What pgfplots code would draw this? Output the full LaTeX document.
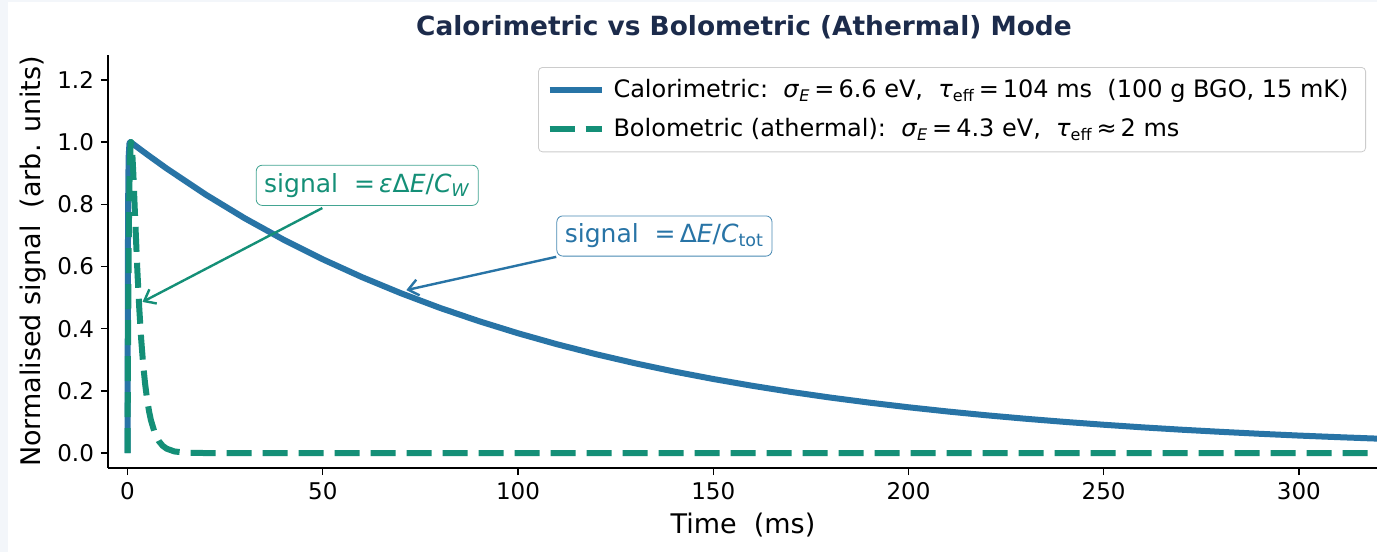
\documentclass[border=0pt]{standalone}
\usepackage{fontspec}
\setmainfont{DejaVu Sans}
\usepackage{pgfplots}
\pgfplotsset{compat=1.18}
\usetikzlibrary{arrows.meta}
\definecolor{calblue}{HTML}{2874A6}
\definecolor{bolgreen}{HTML}{148F77}
\definecolor{titlenavy}{HTML}{1C2B4B}
\definecolor{pagebg}{HTML}{F3F6FA}
\newcommand{\sub}[1]{\textsubscript{#1}}

\begin{document}
\begin{tikzpicture}[x=1pt,y=1pt]
\fill[pagebg] (0,0) rectangle (688.5,-276);
\fill[white] (4,-1) rectangle (688.5,-276);
\node[font=\bfseries\fontsize{13.2}{15}\selectfont, text=titlenavy] at (372,-13.5)
  {Calorimetric vs Bolometric (Athermal) Mode};
\begin{axis}[
  at={(54pt,-234pt)}, anchor=south west,
  scale only axis, width=634.5pt, height=206.5pt,
  xmin=-5, xmax=320, ymin=-0.048, ymax=1.28,
  axis lines*=left,
  axis line style={black, line width=0.8pt},
  tick align=outside, major tick length=3.5pt,
  tick style={black, line width=0.7pt},
  xtick={0,50,100,150,200,250,300},
  ytick={0,0.2,0.4,0.6,0.8,1.0,1.2},
  yticklabel style={/pgf/number format/.cd, fixed, fixed zerofill, precision=1},
  /pgf/number format/assume math mode=true,
  ticklabel style={font=\fontsize{11.5}{13}\selectfont},
  xlabel={Time\ \ (ms)},
  ylabel={Normalised signal\ \ (arb. units)},
  label style={font=\fontsize{13.5}{16}\selectfont},
  xlabel style={at={(axis description cs:0.5004,-0.138)}, anchor=center},
  ylabel style={at={(axis description cs:-0.0591,0.5)}, anchor=center},
  legend cell align=left,
  legend image code/.code={\draw[#1] (0pt,0pt) -- (26pt,0pt);},
  legend style={at={(axis description cs:1,1)}, anchor=north east,
    xshift=-5.5pt, yshift=-6pt, draw=black!20, fill=white, rounded corners=2pt,
    font=\fontsize{12}{14}\selectfont, row sep=5pt,
    inner xsep=4pt, inner ysep=4pt,
    nodes={inner xsep=4.5pt}},
]
% thermal pulse: fast rise, 104 ms decay
\addplot[calblue, line width=3pt, line join=round] coordinates {
 (0,0) (0.1,0.636) (0.2,0.869) (0.3,0.955) (0.5,0.996) (0.7,1.000) (1,0.998)
 (2,0.9885) (5,0.9604) (10,0.9153) (20,0.8314) (30,0.7552) (40,0.6859)
 (50,0.6231) (60,0.5660) (70,0.5141) (80,0.4669) (90,0.4242) (100,0.3853)
 (110,0.3499) (120,0.3179) (130,0.2887) (140,0.2622) (150,0.2382)
 (160,0.2164) (170,0.1965) (180,0.1785) (190,0.1622) (200,0.1473)
 (210,0.1338) (220,0.1215) (230,0.1104) (240,0.1003) (250,0.0911)
 (260,0.0827) (270,0.0751) (280,0.0683) (290,0.0620) (300,0.0563)
 (310,0.0512) (320,0.0465)
};
\addlegendentry{Calorimetric:\ \ \textit{σ}\sub{\textit{E}}\,=\,6.6 eV,\ \ \textit{τ}\sub{eff}\,=\,104 ms\ \ (100 g BGO, 15 mK)}
% athermal phonon pulse: 0.5 ms rise, 2 ms decay
\addplot[bolgreen, line width=3pt, line join=round, dash pattern=on 12.5pt off 5.5pt] coordinates {
 (0,0) (0.1,0.2804) (0.2,0.4964) (0.3,0.6601) (0.4,0.7818) (0.5,0.8697)
 (0.6,0.9305) (0.8,0.9914) (0.924,1.000) (1.0,0.9973) (1.2,0.9696)
 (1.5,0.8944) (2,0.7399) (2.5,0.5921) (3,0.4670) (3.5,0.3659) (4,0.2857)
 (4.5,0.2231) (5,0.1736) (5.5,0.1353) (6,0.1054) (7,0.0639) (8,0.0388)
 (9,0.0235) (10,0.0143) (12,0.0052) (15,0.0012) (20,0.0001) (30,0) (320,0)
};
\addlegendentry{Bolometric (athermal):\ \ \textit{σ}\sub{\textit{E}}\,=\,4.3 eV,\ \ \textit{τ}\sub{eff}\,≈\,2 ms}

\draw[bolgreen, line width=1.2pt, -{Straight Barb[length=5pt,width=8pt]}]
  (axis cs:49.9,0.788) -- (axis cs:3.84,0.486);
\draw[calblue, line width=1.2pt, -{Straight Barb[length=5pt,width=8pt]}]
  (axis cs:109.8,0.631) -- (axis cs:71.4,0.524);
\node[draw=bolgreen!80, fill=white, rounded corners=3pt, text=bolgreen,
  font=\fontsize{12.5}{14}\selectfont, inner xsep=4pt, inner ysep=4pt]
  at (axis cs:61.4,0.861) {signal\ \ =\,\textit{ε}Δ\textit{E}/\textit{C}\sub{\textit{W}}};
\node[draw=calblue!85, fill=white, rounded corners=3pt, text=calblue,
  font=\fontsize{12.5}{14}\selectfont, inner xsep=4pt, inner ysep=4pt]
  at (axis cs:137.5,0.698) {signal\ \ =\,Δ\textit{E}/\textit{C}\sub{tot}};
\end{axis}
\pgfresetboundingbox
\path[use as bounding box] (0,0) rectangle (688.5,-276);
\end{tikzpicture}
\end{document}
